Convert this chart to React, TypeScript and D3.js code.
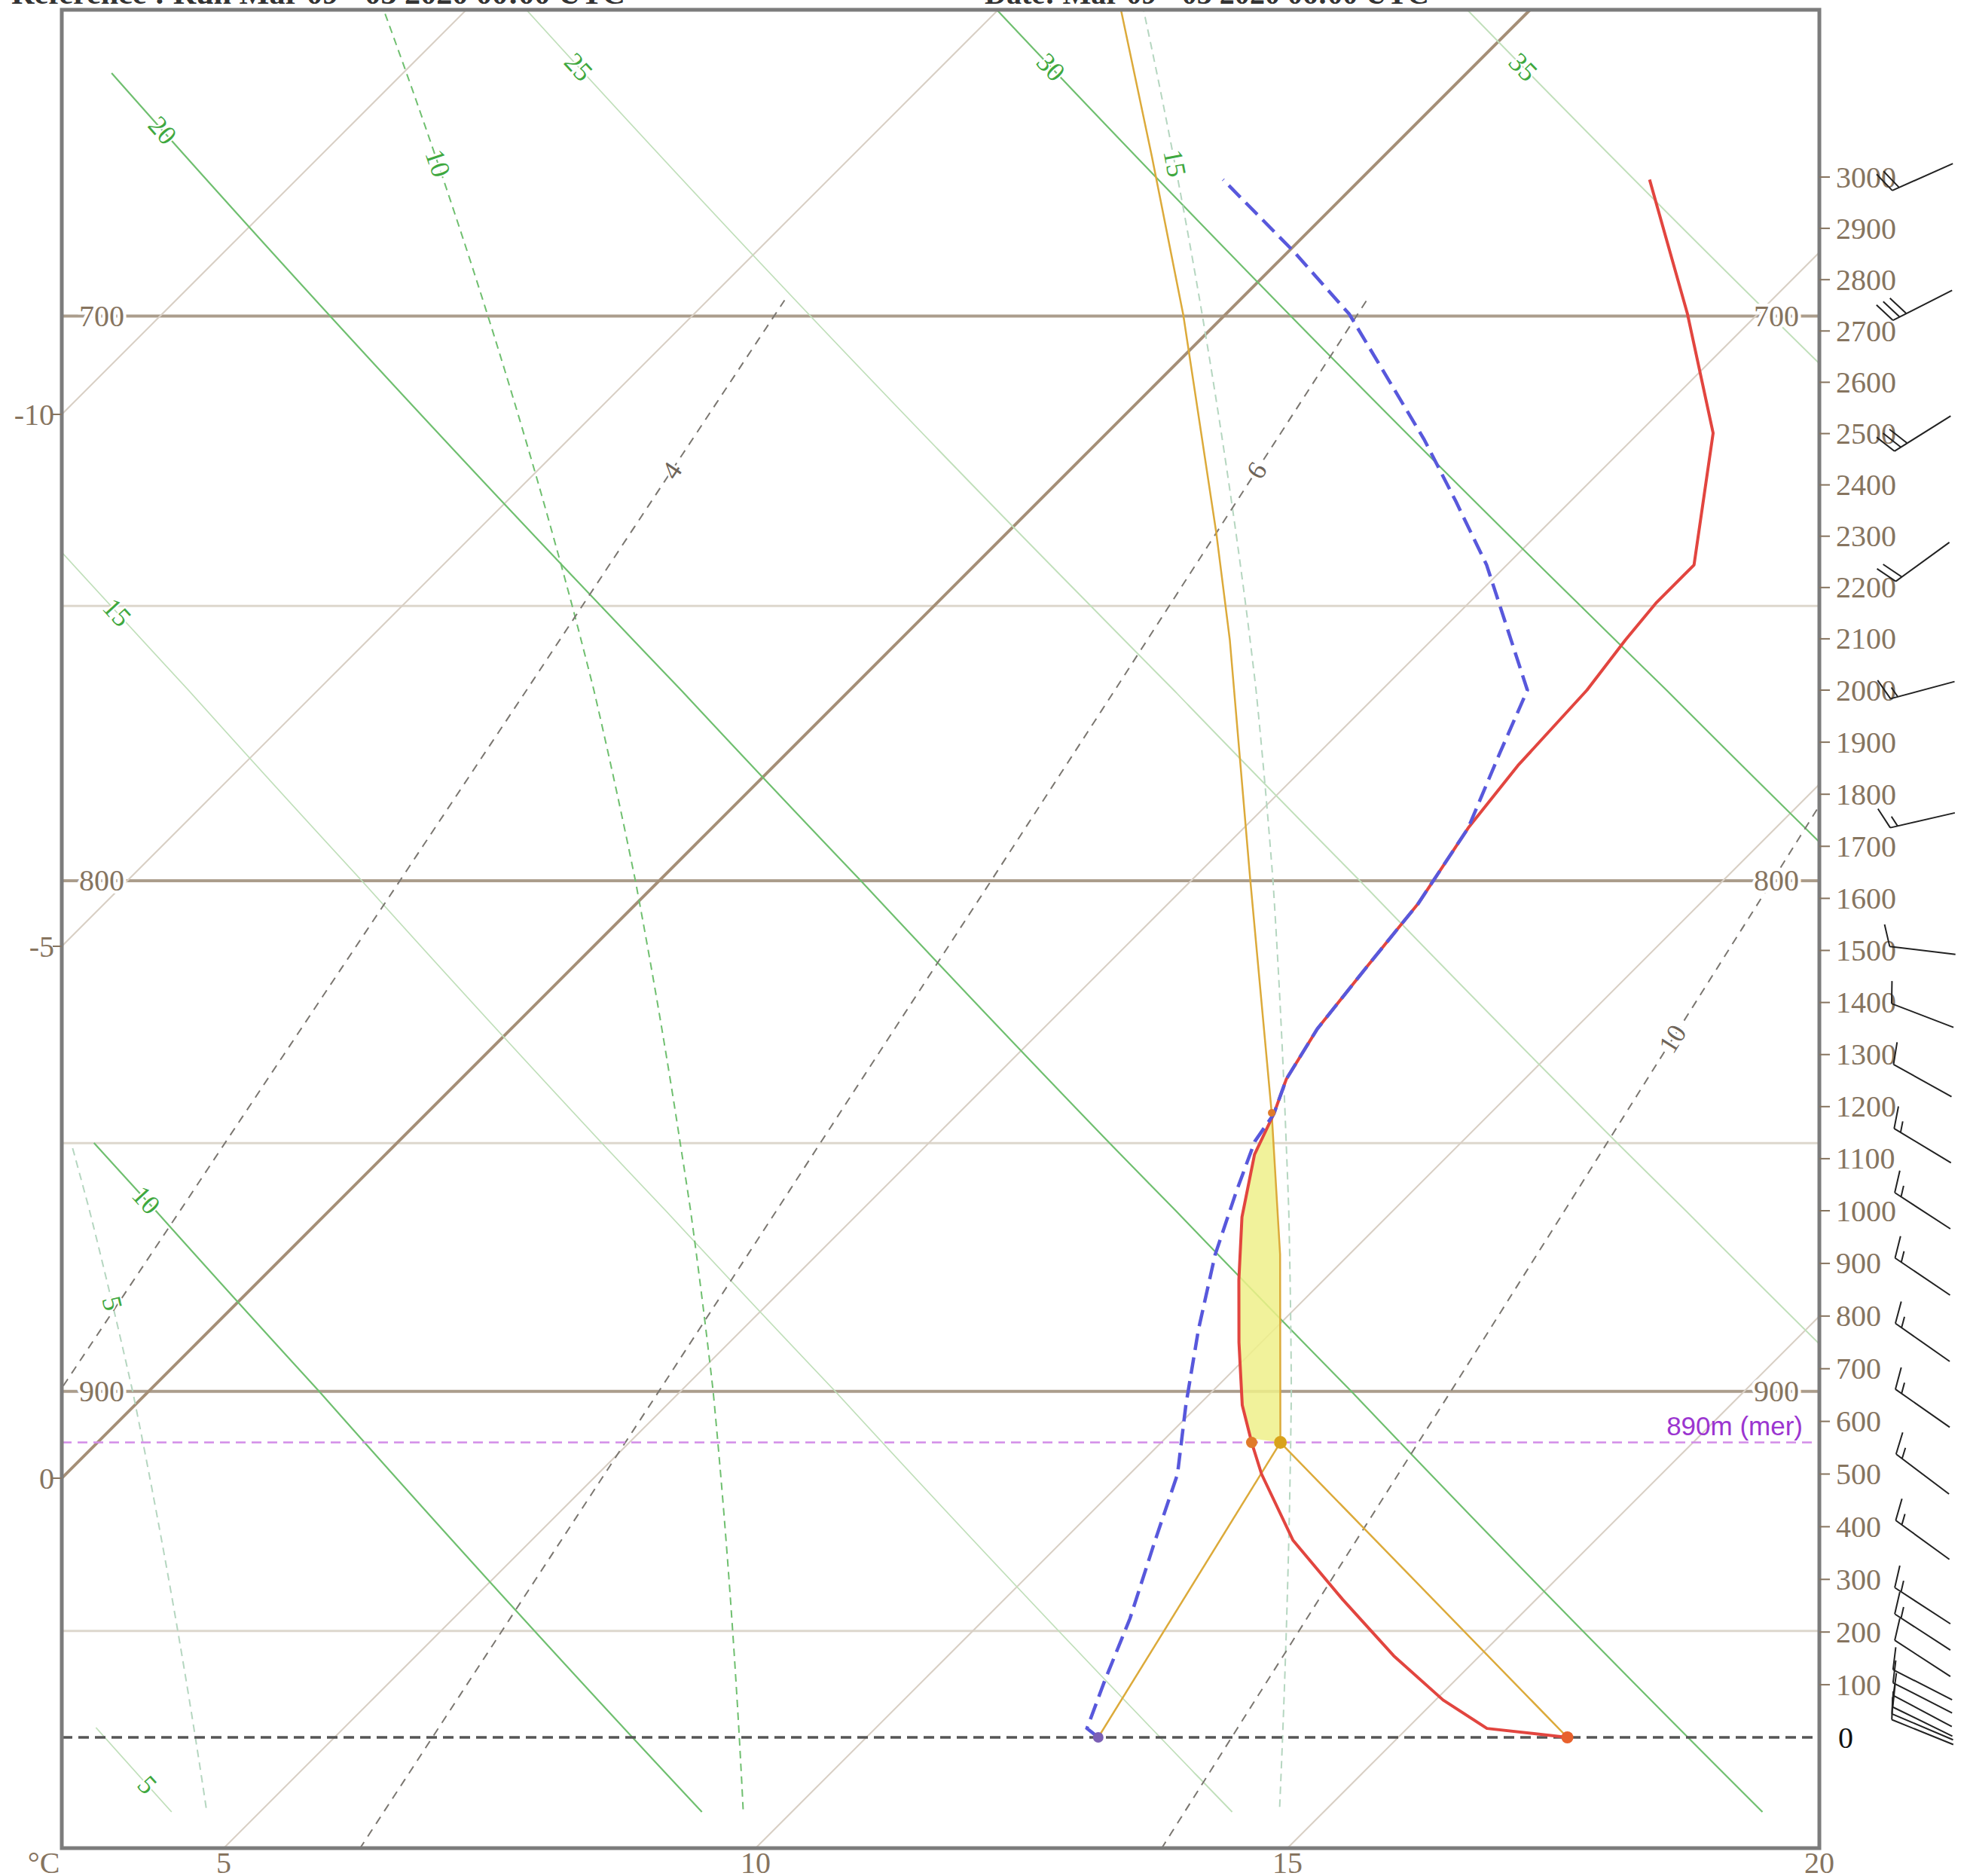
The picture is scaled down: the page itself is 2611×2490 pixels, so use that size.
import React from "react";
import * as d3 from "d3";

const WIDTH = 2611;
const HEIGHT = 2490;
const frame = { left: 82, right: 2415, top: 13, bottom: 2453 };
const greenBottom = 2406; // adiabats stop a little above the frame
const degPx = 141.2; // px per degree C along the bottom

// height above ground (m) -> pixel
const heightKnots = [0, 1000, 2000, 3000];
const heightPixels = [2306, 1607, 916, 235];
const heightTicks = d3.range(100, 3001, 100);

// pressure levels (hPa) and where they sit (m above ground)
const pressureLevels = [700, 750, 800, 850, 900, 950];
const pressureHeights = [2729, 2164, 1634, 1130, 657, 202];
const majorPressures = [700, 800, 900];

const isotherms = [-10, -5, 0, 5, 10, 15, 20];
const leftTempLabels = [-10, -5, 0];
const bottomTempLabels = [5, 10, 15, 20];

const dryAdiabats = [5, 10, 15, 20, 25, 30, 35];
const dryStartHeights = [23, 1132, 2276, 3206, 9999, 9999, 9999];
const moistAdiabats = [5, 10, 15];
const moistStartHeights = [1126, 9999, 9999];
const mixingRatios = [4, 6, 10];
const mixingLabelHeights = [2428, 2428, 1330];
const mixingTopHeight = 2760;

// sounding: temperature
const tempHeights = [0, 17, 71, 155, 262, 374, 500, 560, 631, 750, 869, 988, 1108, 1186, 1253, 1349, 1470, 1590, 1735, 1855, 2000, 2098, 2171, 2244, 2501, 2733, 2995];
const tempValues = [16.59, 15.75, 15.07, 14.19, 13.18, 12.16, 11.24, 10.85, 10.41, 9.79, 9.2, 8.64, 8.17, 7.97, 7.76, 7.58, 7.46, 7.35, 7.11, 6.99, 6.93, 6.82, 6.76, 6.76, 5.7, 4.34, 2.72];

// sounding: dew point
const dewHeights = [0, 17, 107, 226, 369, 500, 631, 774, 917, 1036, 1133, 1186, 1253, 1349, 1470, 1590, 1735, 1880, 2000, 2244, 2367, 2489, 2611, 2733, 2856, 2995];
const dewValues = [12.18, 11.99, 11.71, 11.36, 10.88, 10.45, 9.88, 9.29, 8.74, 8.35, 8.05, 7.97, 7.76, 7.58, 7.46, 7.35, 7.11, 6.7, 6.37, 4.81, 3.93, 3.04, 2.1, 1.16, 0.04, -1.29];

// lifted parcel
const lclHeight = 560;
const lfcHeight = 1188;
const parcelDryHeights = [0, 560];
const parcelDryValues = [16.59, 11.12];
const parcelDewHeights = [0, 560];
const parcelDewValues = [12.18, 11.12];
const parcelMoistHeights = [560, 917, 1188, 1639, 2098, 2306, 2731, 3039, 3325];
const parcelMoistValues = [11.12, 9.35, 7.94, 5.53, 3.1, 1.97, -0.39, -2.17, -3.84];
const lclLabel = "890m (mer)";

// winds
const windHeights = [3000, 2750, 2500, 2250, 2000, 1750, 1500, 1375, 1250, 1125, 1000, 875, 750, 625, 500, 375, 250, 200, 150, 100, 75, 50, 30, 20, 10];
const windDirs = [246, 243, 238, 234, 255, 257, 277, 291, 299, 301, 303, 304, 305, 305, 307, 306, 303, 303, 303, 297, 297, 298, 296, 293, 292];
const windSpeeds = [20, 30, 30, 20, 15, 15, 10, 10, 10, 15, 15, 15, 15, 15, 15, 15, 15, 15, 10, 10, 10, 10, 10, 10, 10];

const serif = "'Liberation Serif', 'Times New Roman', serif";
const axisColor = "#86745f";
const green = "#3fa83f";

const barbPath = (cx: number, cy: number, dir: number, speed: number) => {
  const r = (dir * Math.PI) / 180;
  const ux = Math.sin(r);
  const uy = -Math.cos(r);
  const half = 44;
  const ex = cx + ux * half;
  const ey = cy + uy * half;
  let d = `M${cx - ux * half},${cy - uy * half}L${ex},${ey}`;
  const a = (70 * Math.PI) / 180;
  const fx = ux * Math.cos(a) - uy * Math.sin(a);
  const fy = ux * Math.sin(a) + uy * Math.cos(a);
  let s = Math.round(speed / 5) * 5;
  let pos = s === 5 ? 10 : 0;
  while (s >= 10) {
    d += `M${ex - ux * pos},${ey - uy * pos}l${fx * 30},${fy * 30}`;
    pos += 10;
    s -= 10;
  }
  if (s >= 5) d += `M${ex - ux * pos},${ey - uy * pos}l${fx * 15},${fy * 15}`;
  return d;
};

const App: React.FC = () => {
  const yScale = d3.scaleLinear().domain(heightKnots).range(heightPixels);
  const tScale = d3.scaleLinear().domain([0, 20]).range([frame.right - 20 * degPx, frame.right]);
  const sx = (t: number, h: number) => tScale(t) + (frame.bottom - yScale(h));
  const lnPOfH = d3.scaleLinear().domain(pressureHeights).range(pressureLevels.map(Math.log));
  const hOfLnP = d3.scaleLinear().domain(pressureLevels.map(Math.log)).range(pressureHeights);
  const line = d3.line<[number, number]>().x((d) => d[0]).y((d) => d[1]);

  const inside = (p: [number, number]) => p[0] >= frame.left && p[1] >= frame.top && p[0] <= frame.right;

  const labelAt = (pts: [number, number][], offset: number) => {
    const first = pts.findIndex(inside);
    if (first < 0) return null;
    let k = first;
    while (k < pts.length - 2 && pts[k][1] < pts[first][1] + offset) k++;
    const a = pts[Math.max(0, k - 1)];
    const b = pts[Math.min(pts.length - 1, k + 1)];
    return { x: pts[k][0], y: pts[k][1], angle: (Math.atan2(b[1] - a[1], b[0] - a[0]) * 180) / Math.PI };
  };

  // dry adiabats
  const dryLines = dryAdiabats.map((th, i) => {
    const pts: [number, number][] = [];
    for (let y = frame.top - 20; y <= greenBottom; y += 4) {
      const h = yScale.invert(y);
      if (h > dryStartHeights[i]) continue;
      const p = Math.exp(lnPOfH(h));
      const t = (th + 273.15) * Math.pow(p / 1000, 0.2857) - 273.15;
      pts.push([sx(t, h), y]);
    }
    return pts;
  });

  // moist (pseudo) adiabats
  const dTdp = (T: number, p: number) => {
    const es = 6.112 * Math.exp((17.67 * (T - 273.15)) / (T - 29.65));
    const rs = (0.622 * es) / (p - es);
    const num = (287.04 * T + 2.501e6 * rs) / p;
    const den = 1005.7 + (2.501e6 * 2.501e6 * rs * 0.622) / (287.04 * T * T);
    return num / den;
  };
  const moistLines = moistAdiabats.map((tw, i) => {
    const pts: [number, number][] = [];
    let T = tw + 273.15;
    for (let p = 1000; p >= 600; p -= 1) {
      const h = hOfLnP(Math.log(p));
      const y = yScale(h);
      if (y <= greenBottom && h <= moistStartHeights[i]) pts.push([sx(T - 273.15, h), y]);
      const k1 = dTdp(T, p);
      const k2 = dTdp(T - 0.5 * k1, p - 0.5);
      T -= k2;
    }
    return pts.sort((a, b) => a[1] - b[1]);
  });

  // mixing ratio lines
  const mixLines = mixingRatios.map((w) => {
    const pts: [number, number][] = [];
    for (let h = -260; h <= mixingTopHeight; h += 20) {
      const p = Math.exp(lnPOfH(h));
      const e = (w * p) / (622 + w);
      const l = Math.log(e / 6.112);
      const td = (243.5 * l) / (17.67 - l);
      pts.push([sx(td, h), yScale(h)]);
    }
    return pts;
  });

  const toPts = (hs: number[], ts: number[]) => hs.map((h, i) => [sx(ts[i], h), yScale(h)] as [number, number]);
  const envT = d3.scaleLinear().domain(tempHeights).range(tempValues);
  const parcelT = d3.scaleLinear().domain(parcelMoistHeights).range(parcelMoistValues);

  const capePts: [number, number][] = [];
  for (let h = lclHeight; h <= lfcHeight; h += 10) capePts.push([sx(parcelT(h), h), yScale(h)]);
  for (let h = lfcHeight; h >= lclHeight; h -= 10) capePts.push([sx(envT(h), h), yScale(h)]);

  const isoX = (t: number, y: number) => tScale(t) + (frame.bottom - y);
  const leftY = (t: number) => frame.bottom - (frame.left - tScale(t));

  const dots = [
    { x: sx(tempValues[0], 0), y: yScale(0), r: 8, c: "#e8612c" },
    { x: sx(dewValues[0], 0), y: yScale(0), r: 7, c: "#7b5fb5" },
    { x: sx(envT(lclHeight), lclHeight), y: yScale(lclHeight), r: 7.5, c: "#e07b2a" },
    { x: sx(parcelMoistValues[0], lclHeight), y: yScale(lclHeight), r: 8.5, c: "#d9a21b" },
    { x: sx(parcelT(lfcHeight), lfcHeight), y: yScale(lfcHeight), r: 5, c: "#e07b2a" },
  ];

  return (
    <svg width={WIDTH} height={HEIGHT} style={{ position: "absolute", left: 0, top: 0, background: "#fff" }}>
      <defs>
        <clipPath id="frameClip">
          <rect x={frame.left} y={frame.top} width={frame.right - frame.left} height={frame.bottom - frame.top} />
        </clipPath>
      </defs>

      {/* header, cut off by the top of the picture */}
      <text x={15} y={5} fontFamily={serif} fontWeight="bold" fontSize={40} fill="#333" textLength={815} lengthAdjust="spacingAndGlyphs">Référence : Run Mar 09 - 03 2020 00:00 UTC</text>
      <text x={1307} y={5} fontFamily={serif} fontWeight="bold" fontSize={40} fill="#333" textLength={590} lengthAdjust="spacingAndGlyphs">Date: Mar 09 - 03 2020 06:00 UTC</text>

      <g clipPath="url(#frameClip)">
        {/* pressure lines */}
        {pressureLevels.map((p, i) => {
          const major = majorPressures.includes(p);
          return (
            <line key={p} x1={frame.left} x2={frame.right} y1={yScale(pressureHeights[i])} y2={yScale(pressureHeights[i])}
              stroke={major ? "#ab9d8c" : "#ddd7cd"} strokeWidth={major ? 4 : 3} />
          );
        })}
        {/* isotherms */}
        {isotherms.map((t) => (
          <line key={t} x1={isoX(t, frame.bottom)} y1={frame.bottom} x2={isoX(t, frame.top)} y2={frame.top}
            stroke={t === 0 ? "#a58f77" : "#d8cfc4"} strokeWidth={t === 0 ? 4 : 2} />
        ))}
        {/* dry adiabats */}
        {dryLines.map((pts, i) => (
          <path key={i} d={line(pts) || ""} fill="none" stroke={dryAdiabats[i] % 10 === 0 ? "#6fbf6f" : "#c0dfba"} strokeWidth={dryAdiabats[i] % 10 === 0 ? 2.2 : 1.8} />
        ))}
        {/* moist adiabats */}
        {moistLines.map((pts, i) => (
          <path key={i} d={line(pts) || ""} fill="none" stroke={moistAdiabats[i] % 10 === 0 ? "#6fbf6f" : "#b5d6c0"} strokeWidth={2} strokeDasharray="10 7" />
        ))}
        {/* mixing ratio lines */}
        {mixLines.map((pts, i) => (
          <path key={i} d={line(pts) || ""} fill="none" stroke="#7a7670" strokeWidth={2} strokeDasharray="11 9" />
        ))}

        {/* labels on the grid lines */}
        {dryLines.map((pts, i) => {
          const l = labelAt(pts, 75);
          return l ? (
            <text key={i} transform={`translate(${l.x},${l.y}) rotate(${l.angle})`} textAnchor="middle" dominantBaseline="central"
              fontFamily={serif} fontSize={36} fill={green} stroke="#fff" strokeWidth={4} paintOrder="stroke">{dryAdiabats[i]}</text>
          ) : null;
        })}
        {moistLines.map((pts, i) => {
          const l = labelAt(pts, 200);
          return l ? (
            <text key={i} transform={`translate(${l.x},${l.y}) rotate(${l.angle})`} textAnchor="middle" dominantBaseline="central"
              fontFamily={serif} fontSize={36} fill={green} stroke="#fff" strokeWidth={4} paintOrder="stroke">{moistAdiabats[i]}</text>
          ) : null;
        })}
        {mixingRatios.map((w, i) => {
          const h = mixingLabelHeights[i];
          const p = Math.exp(lnPOfH(h));
          const e = (w * p) / (622 + w);
          const lg = Math.log(e / 6.112);
          const td = (243.5 * lg) / (17.67 - lg);
          const pts = mixLines[i];
          const a = pts[0];
          const b = pts[pts.length - 1];
          const angle = (Math.atan2(b[1] - a[1], b[0] - a[0]) * 180) / Math.PI;
          return (
            <text key={w} transform={`translate(${sx(td, h)},${yScale(h)}) rotate(${angle})`} textAnchor="middle" dominantBaseline="central"
              fontFamily={serif} fontSize={36} fill="#6e6458" stroke="#fff" strokeWidth={6} paintOrder="stroke">{w}</text>
          );
        })}

        {/* pressure labels */}
        {pressureLevels.map((p, i) =>
          majorPressures.includes(p) ? (
            <g key={p}>
              {[135, 2358].map((x) => (
                <text key={x} x={x} y={yScale(pressureHeights[i])} textAnchor="middle" dominantBaseline="central"
                  fontFamily={serif} fontSize={40} fill={axisColor} stroke="#fff" strokeWidth={8} paintOrder="stroke">{p}</text>
              ))}
            </g>
          ) : null
        )}

        {/* positive area */}
        <path d={(line(capePts) || "") + "Z"} fill="#eef08a" fillOpacity={0.85} stroke="none" />

        {/* LCL and ground lines */}
        <line x1={frame.left} x2={frame.right} y1={yScale(lclHeight)} y2={yScale(lclHeight)} stroke="#d28de8" strokeWidth={2.5} strokeDasharray="13 8" />
        <text x={2393} y={yScale(lclHeight) - 10} textAnchor="end" fontFamily="'Liberation Sans', Arial, sans-serif" fontSize={35} fill="#9b35d0">{lclLabel}</text>
        <line x1={frame.left} x2={frame.right} y1={yScale(0)} y2={yScale(0)} stroke="#555" strokeWidth={3.5} strokeDasharray="14 8" />

        {/* parcel */}
        <path d={line(toPts(parcelDryHeights, parcelDryValues)) || ""} fill="none" stroke="#dcaa3a" strokeWidth={2.5} />
        <path d={line(toPts(parcelDewHeights, parcelDewValues)) || ""} fill="none" stroke="#dcaa3a" strokeWidth={2.5} />
        <path d={line(toPts(parcelMoistHeights, parcelMoistValues)) || ""} fill="none" stroke="#dcaa3a" strokeWidth={2.5} />

        {/* temperature and dew point */}
        <path d={line(toPts(tempHeights, tempValues)) || ""} fill="none" stroke="#e2453f" strokeWidth={4} strokeLinejoin="round" />
        <path d={line(toPts(dewHeights, dewValues)) || ""} fill="none" stroke="#5858dc" strokeWidth={4.5} strokeDasharray="22 10" />

        {dots.map((d, i) => (
          <circle key={i} cx={d.x} cy={d.y} r={d.r} fill={d.c} />
        ))}
      </g>

      {/* frame */}
      <rect x={frame.left} y={frame.top} width={frame.right - frame.left} height={frame.bottom - frame.top} fill="none" stroke="#7c7c7c" strokeWidth={5} />

      {/* left temperature labels */}
      {leftTempLabels.map((t) => (
        <g key={t}>
          <line x1={70} x2={frame.left} y1={leftY(t)} y2={leftY(t)} stroke={axisColor} strokeWidth={2} />
          <text x={72} y={leftY(t)} textAnchor="end" dominantBaseline="central" fontFamily={serif} fontSize={40} fill={axisColor}>{t}</text>
        </g>
      ))}
      {/* bottom temperature labels */}
      <text x={58} y={2486} textAnchor="middle" fontFamily={serif} fontSize={40} fill={axisColor}>°C</text>
      {bottomTempLabels.map((t) => (
        <text key={t} x={tScale(t)} y={2486} textAnchor="middle" fontFamily={serif} fontSize={40} fill={axisColor}>{t}</text>
      ))}

      {/* right height axis */}
      {heightTicks.map((h) => (
        <g key={h}>
          <line x1={frame.right} x2={frame.right + 14} y1={yScale(h)} y2={yScale(h)} stroke={axisColor} strokeWidth={2} />
          <text x={2437} y={yScale(h)} dominantBaseline="central" fontFamily={serif} fontSize={40} fill={axisColor}>{h}</text>
        </g>
      ))}
      <text x={2440} y={yScale(0)} dominantBaseline="central" fontFamily={serif} fontSize={40} fill="#111">0</text>

      {/* wind barbs */}
      {windHeights.map((h, i) => (
        <path key={h} d={barbPath(2552, yScale(h), windDirs[i], windSpeeds[i])} fill="none" stroke="#222" strokeWidth={2} />
      ))}
    </svg>
  );
};

export default App;
